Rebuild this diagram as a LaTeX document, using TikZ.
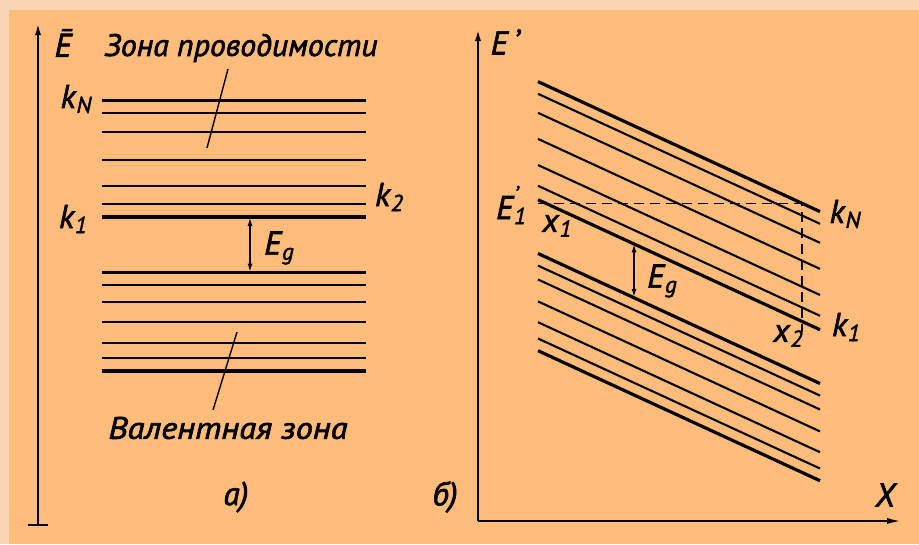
\documentclass[tikz,border=0pt]{standalone}
\usepackage{fontspec}
\setmainfont{PT Sans}[FakeBold=2]
\usetikzlibrary{arrows.meta}
\definecolor{outerbg}{HTML}{FAD5B4}
\definecolor{innerbg}{HTML}{FFBC7A}
\newcommand\lsub[2]{#1\kern1pt\raisebox{-0.3ex}{\fontsize{23}{23}\selectfont #2}}
\begin{document}
\begin{tikzpicture}[x=1pt,y=-1pt,
  thickl/.style={line width=3.2pt},
  thinl/.style={line width=2.1pt},
  axisl/.style={line width=2.4pt},
  lab/.style={font=\itshape\fontsize{33}{33}\selectfont, inner sep=0pt},
  txt/.style={font=\itshape\fontsize{31}{31}\selectfont, inner sep=0pt}]
\useasboundingbox (0,0) rectangle (919,544);
\fill[outerbg] (0,0) rectangle (919,544);
\fill[innerbg] (9,10) rectangle (919,544);

% ---------------- panel a ----------------
\coordinate (aaxB) at (38,525);
\coordinate (aaxT) at (38,22);
\draw[axisl,-{Latex[length=13pt,width=6pt]}] (aaxB) -- (aaxT);
\draw[axisl] (28,525) -- (48,525);
\node[lab] (Ebar) at (63,43) {Ē};
\node[txt] (cond) at (241,48) {\resizebox{273pt}{\height}{\itshape Зона проводимости}};
\node[txt] (val) at (228,428) {\resizebox{239pt}{\height}{\itshape Валентная зона}};
\node[lab] (pa) at (236,497) {а)};

\foreach \y/\s in {100.7/thickl,112.8/thinl,132/thinl,160/thinl,186/thinl,204/thinl,217/thickl,
                   272.6/thickl,285.4/thinl,302/thinl,322/thinl,343/thinl,357.6/thinl,371/thickl}
  \draw[\s] (102,\y) -- (366,\y);

\node[lab] (kNa) at (76,99) {\lsub{k}{N}};
\node[lab] (k1a) at (73,219) {\lsub{k}{1}};
\node[lab] (k2a) at (389,197) {\lsub{k}{2}};

\coordinate (ega1) at (250,217);
\coordinate (ega2) at (250,272.6);
\draw[line width=1.8pt,{Latex[length=9pt,width=5pt]}-{Latex[length=9pt,width=5pt]}] (ega1) -- (ega2);
\node[lab] (Ega) at (279,248) {\lsub{E}{g}};

\draw[line width=1.4pt] (228,69) -- (207,148);
\draw[line width=1.4pt] (237,332) -- (213,410);

% ---------------- panel b ----------------
\coordinate (bO) at (478,521);
\coordinate (bY) at (478,28);
\coordinate (bX) at (903,521);
\draw[axisl,-{Latex[length=13pt,width=6pt]}] (bO) -- (bY);
\draw[axisl,-{Latex[length=16pt,width=6pt]}] (bO) -- (bX);
\node[lab] (Ep) at (505,42) {E\,\raisebox{0.1ex}{'}};
\node[lab] (Xl) at (885,495) {X};
\node[lab] (pb) at (445,497) {б)};

\foreach \y/\s in {81.6/thickl,93.8/thinl,112.8/thinl,138.9/thinl,165/thinl,185.8/thinl,199.7/thickl,
                   253.5/thickl,265.6/thinl,279.5/thinl,301.4/thinl,322.2/thinl,338.5/thinl,350.7/thickl}
  \draw[\s] (538,\y) -- (820,\y+130);

\coordinate (x1p) at (538,203.5);
\coordinate (x2p) at (802,203.5);
\coordinate (x2b) at (802,332);
\draw[line width=1.4pt,dash pattern=on 10pt off 6pt] (x1p) -- (x2p) -- (x2b);

\node[lab,anchor=west] (E1) at (496,205) {E\kern1pt\raisebox{-0.3ex}{\fontsize{23}{23}\selectfont\makebox[0pt][l]{\raisebox{0.95em}{'}}1}};
\node[lab] (x1) at (557,226) {\lsub{x}{1}};
\node[lab] (x2) at (788,336) {\lsub{x}{2}};
\node[lab] (kNb) at (845,214) {\lsub{k}{N}};
\node[lab] (k1b) at (846,327) {\lsub{k}{1}};

\coordinate (egb1) at (634,243.4);
\coordinate (egb2) at (634,297.8);
\draw[line width=1.8pt,{Latex[length=9pt,width=5pt]}-{Latex[length=9pt,width=5pt]}] (egb1) -- (egb2);
\node[lab] (Egb) at (662,281) {\lsub{E}{g}};
\end{tikzpicture}
\end{document}
